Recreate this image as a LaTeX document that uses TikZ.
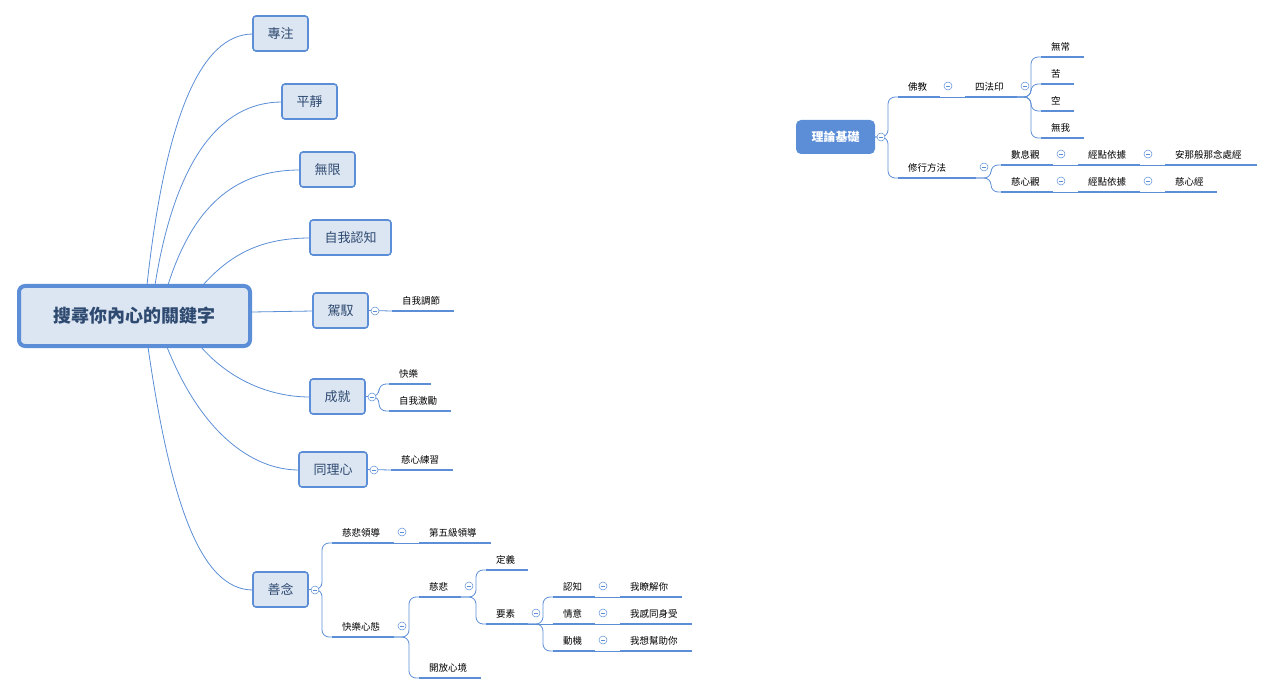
\documentclass[tikz,border=0pt]{standalone}
\usepackage{fontspec}
\newfontfamily\cjk{Noto Sans CJK TC}
\usetikzlibrary{calc}
\definecolor{bl}{HTML}{5B8ED6}
\definecolor{bfill}{HTML}{DCE5F2}
\definecolor{txt}{HTML}{2E4A70}
\tikzset{
 conn/.style={draw=bl,line width=0.8pt},
 under/.style={draw=bl,line width=2.6pt},
 leaf/.style={font=\cjk\fontsize{9.5}{10}\selectfont,text=black,inner sep=0pt,anchor=west},
 topic/.style={draw=bl,fill=bfill,line width=1.6pt,rounded corners=3pt,font=\cjk\fontsize{13}{14}\selectfont,text=txt,inner sep=0pt},
 coll/.style={circle,draw=bl,fill=white,line width=0.5pt,minimum size=8pt,inner sep=0pt,
   path picture={\draw[bl,line width=0.5pt] ([xshift=2pt]path picture bounding box.west) -- ([xshift=-2pt]path picture bounding box.east);}},
}
\newcommand\leafnode[5]{%
 \coordinate (#1-w) at (#2,#4); \coordinate (#1-e) at (#3,#4);
 \draw[under] (#1-w) -- (#1-e);
 \node[leaf] (#1) at (#2+10,#4-10) {#5};}
\newcommand\topicbox[6]{% name x1 y1 x2 y2 text
 \node[topic,minimum width={(#4-#2)*1pt},minimum height={(#5-#3)*1pt}] (#1) at ({(#2+#4)/2},{(#3+#5)/2}) {#6};}
\newcommand\fork[3]{\draw[conn,rounded corners=7pt] (#1) -| ($(#2)+(-#3,0)$) -- (#2);}
\begin{document}
\begin{tikzpicture}[x=1pt,y=-1pt]
\useasboundingbox (0,0) rectangle (1275,695);
% big curves
\draw[conn] (147,285) .. controls (165,120) and (200,34) .. (253,34);
\draw[conn] (155,285) .. controls (175,160) and (220,102) .. (282,102);
\draw[conn] (168,285) .. controls (195,200) and (240,170) .. (300,170);
\draw[conn] (203,285) .. controls (230,255) and (260,238) .. (310,238);
\draw[conn] (252,312) -- (313,311);
\draw[conn] (201,347) .. controls (230,380) and (270,397) .. (310,397);
\draw[conn] (167,347) .. controls (200,430) and (250,470) .. (299,470);
\draw[conn] (148,347) .. controls (170,500) and (200,590) .. (253,590);
\node[topic,line width=4pt,rounded corners=6pt,minimum width=231pt,minimum height=60pt,font=\cjk\bfseries\fontsize{18}{20}\selectfont] (root) at (134.5,316) {搜尋你內心的關鍵字};
\topicbox{t1}{253}{16}{308}{51}{專注}
\topicbox{t2}{282}{84}{337}{119}{平靜}
\topicbox{t3}{300}{152}{355}{187}{無限}
\topicbox{t4}{310}{220}{391}{255}{自我認知}
\topicbox{t5}{313}{293}{368}{328}{駕馭}
\topicbox{t6}{310}{379}{365}{414}{成就}
\topicbox{t7}{299}{452}{367}{487}{同理心}
\topicbox{t8}{253}{572}{308}{607}{善念}
% 駕馭
\leafnode{a1}{392}{454}{311}{自我調節}
\draw[conn] (t5.east) -- (a1-w);
\node[coll] at (375,311) {};
% 成就
\leafnode{b1}{389}{431}{384}{快樂}
\leafnode{b2}{389}{451}{411}{自我激勵}
\fork{t6.east}{b1-w}{10} \fork{t6.east}{b2-w}{10}
\node[coll] at (372,397) {};
% 同理心
\leafnode{c1}{391}{453}{470}{慈心練習}
\draw[conn] (t7.east) -- (c1-w);
\node[coll] at (374,470) {};
% 善念
\leafnode{d1}{332}{394}{543}{慈悲領導}
\leafnode{d2}{332}{394}{637}{快樂心態}
\fork{t8.east}{d1-w}{10} \fork{t8.east}{d2-w}{10}
\node[coll] at (315,590) {};
\leafnode{d11}{419}{491}{543}{第五級領導}
\draw[conn] (d1-e) -- (d11-w);
\node[coll] at (402,532) {};
\leafnode{d21}{419}{461}{597}{慈悲}
\leafnode{d22}{419}{481}{678}{開放心境}
\fork{d2-e}{d21-w}{10} \fork{d2-e}{d22-w}{10}
\node[coll] at (402,626) {};
\leafnode{e1}{486}{528}{570}{定義}
\leafnode{e2}{486}{528}{624}{要素}
\fork{d21-e}{e1-w}{10} \fork{d21-e}{e2-w}{10}
\node[coll] at (469,586) {};
\leafnode{f1}{553}{595}{597}{認知}
\leafnode{f2}{553}{595}{624}{情意}
\leafnode{f3}{553}{595}{651}{動機}
\fork{e2-e}{f1-w}{10} \draw[conn] (e2-e) -- (f2-w); \fork{e2-e}{f3-w}{10}
\node[coll] at (536,613) {};
\leafnode{g1}{620}{682}{597}{我瞭解你}
\leafnode{g2}{620}{692}{624}{我感同身受}
\leafnode{g3}{620}{692}{651}{我想幫助你}
\draw[conn] (f1-e) -- (g1-w); \draw[conn] (f2-e) -- (g2-w); \draw[conn] (f3-e) -- (g3-w);
\node[coll] at (603,586) {}; \node[coll] at (603,613) {}; \node[coll] at (603,640) {};
% right tree
\node[fill=bl,rounded corners=5pt,minimum width=79pt,minimum height=34pt,text=white,font=\cjk\bfseries\fontsize{12}{14}\selectfont,inner sep=0pt] (r) at (835.5,137) {理論基礎};
\leafnode{h1}{898}{940}{97}{佛教}
\leafnode{h2}{898}{976}{178}{修行方法}
\fork{r.east}{h1-w}{10} \fork{r.east}{h2-w}{10}
\node[coll] at (881,137) {};
\leafnode{i1}{965}{1017}{97}{四法印}
\draw[conn] (h1-e) -- (i1-w);
\node[coll] at (948,86) {};
\leafnode{j1}{1041}{1084}{57}{無常}
\leafnode{j2}{1041}{1074}{84}{苦}
\leafnode{j3}{1041}{1074}{111}{空}
\leafnode{j4}{1041}{1084}{138}{無我}
\fork{i1-e}{j1-w}{10} \fork{i1-e}{j2-w}{10} \fork{i1-e}{j3-w}{10} \fork{i1-e}{j4-w}{10}
\node[coll] at (1025,86) {};
\leafnode{k1}{1001}{1053}{165}{數息觀}
\leafnode{k2}{1001}{1053}{192}{慈心觀}
\fork{h2-e}{k1-w}{10} \fork{h2-e}{k2-w}{10}
\node[coll] at (984,167) {};
\leafnode{l1}{1078}{1140}{165}{經點依據}
\leafnode{l2}{1078}{1140}{192}{經點依據}
\draw[conn] (k1-e) -- (l1-w); \draw[conn] (k2-e) -- (l2-w);
\node[coll] at (1061,154) {}; \node[coll] at (1061,181) {};
\leafnode{m1}{1165}{1257}{165}{安那般那念處經}
\leafnode{m2}{1165}{1217}{192}{慈心經}
\draw[conn] (l1-e) -- (m1-w); \draw[conn] (l2-e) -- (m2-w);
\node[coll] at (1148,154) {}; \node[coll] at (1148,181) {};
\end{tikzpicture}
\end{document}
